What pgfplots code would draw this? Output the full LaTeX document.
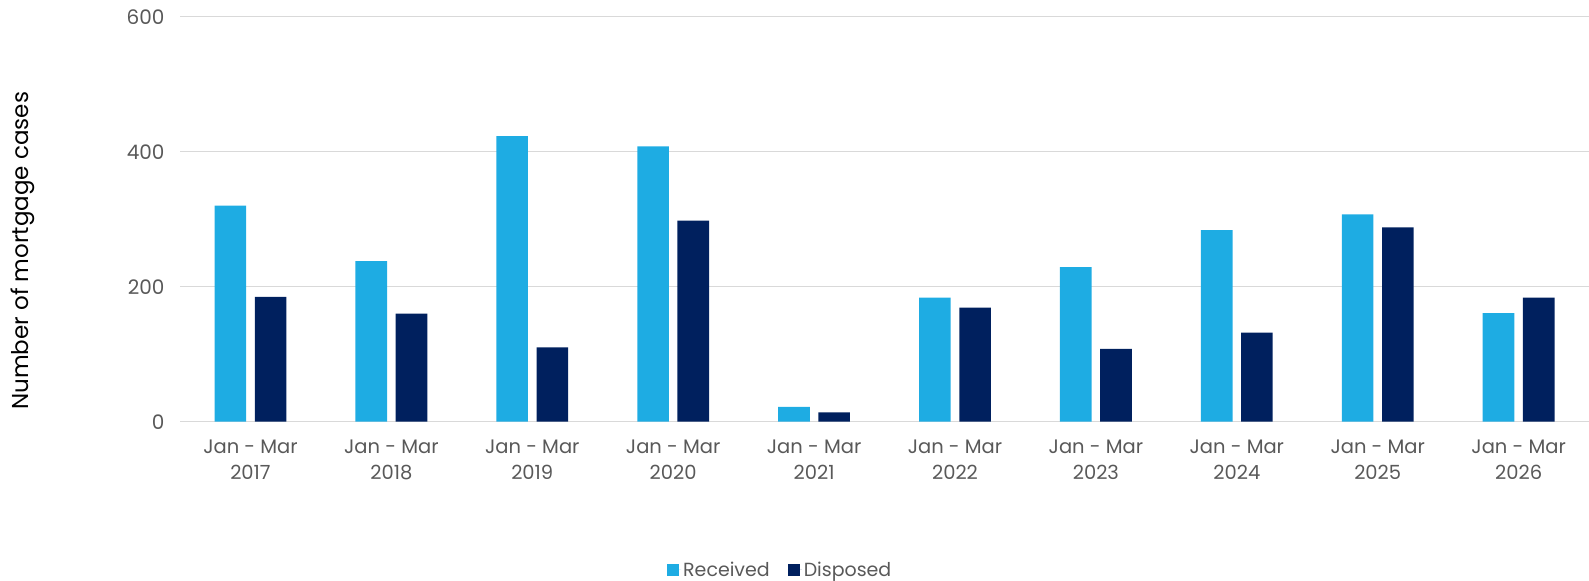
\documentclass[border=0pt]{standalone}
\usepackage{fontspec}
\setmainfont{Poppins}
\usepackage{pgfplots}
\pgfplotsset{compat=1.18}
\definecolor{recv}{HTML}{1EACE3}
\definecolor{disp}{HTML}{00205E}
\definecolor{tickgray}{HTML}{595959}
\definecolor{gridgray}{HTML}{D9D9D9}
\begin{document}
\begin{tikzpicture}
\path[use as bounding box] (0bp,0bp) rectangle (1589bp,581bp);
\begin{axis}[
  at={(180bp,159.3bp)}, anchor=south west,
  scale only axis, width=1409bp, height=405bp,
  ybar=8.6bp, bar width=31.6bp,
  xmin=-0.5, xmax=9.5, ymin=0, ymax=600,
  ytick={0,200,400,600},
  xtick=data,
  xticklabels={Jan - Mar\\2017,Jan - Mar\\2018,Jan - Mar\\2019,Jan - Mar\\2020,Jan - Mar\\2021,Jan - Mar\\2022,Jan - Mar\\2023,Jan - Mar\\2024,Jan - Mar\\2025,Jan - Mar\\2026},
  xticklabel style={align=center, font=\fontsize{19.5bp}{26.5bp}\selectfont, text=tickgray, yshift=-10bp},
  yticklabel style={font=\fontsize{20bp}{24bp}\selectfont, text=tickgray, xshift=-12bp},
  /pgf/number format/assume math mode=true,
  ymajorgrids, major grid style={draw=gridgray, line width=1.5bp},
  axis line style={draw=none},
  major tick style={draw=none},
  ylabel={Number of mortgage cases},
  ylabel style={font=\fontsize{23bp}{27bp}\selectfont, text=black, at={(axis description cs:-0.1118,0.422)}, anchor=center, rotate=0},
  legend style={at={(0.426,-0.365)}, anchor=center, draw=none, font=\fontsize{19bp}{22bp}\selectfont, text=tickgray, legend columns=2, /tikz/every even column/.append style={column sep=16bp}},
  legend image code/.code={\fill[#1] (0bp,-6bp) rectangle (12bp,6bp); \path (0bp,0bp) -- (14bp,0bp);},
]
\addplot[fill=recv, draw=none] coordinates {(0,320) (1,238) (2,423) (3,408) (4,22) (5,184) (6,229) (7,284) (8,307) (9,161)};
\addplot[fill=disp, draw=none] coordinates {(0,185) (1,160) (2,110) (3,298) (4,14) (5,169) (6,108) (7,132) (8,288) (9,184)};
\legend{Received,Disposed}
\end{axis}
\end{tikzpicture}
\end{document}
